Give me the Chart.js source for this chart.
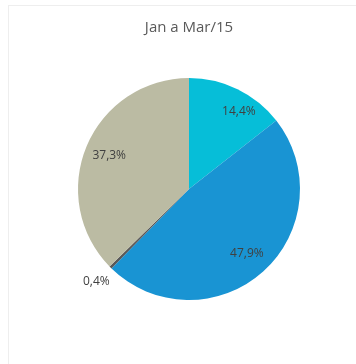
<!DOCTYPE html>
<html>
<head>
<meta charset="utf-8">
<script src="https://cdn.jsdelivr.net/npm/chart.js@4"></script>
<style>
  body { margin: 0; background: #ffffff; }
  #frame { position: absolute; left: 8px; top: 5px; width: 360px; height: 370px; border: 1px solid #eeeeee; }
  #box { position: absolute; left: 0; top: 0; width: 356px; height: 364px; }
</style>
</head>
<body>
<div id="frame"></div>
<div id="box"><canvas id="pieChart"></canvas></div>
<script>
// Dados do gráfico (percentuais por fatia)
const categorias = ['A', 'B', 'C', 'D'];
const valores = [14.4, 47.9, 0.4, 37.3];
const cores = ['#06bed8', '#1994d3', '#595959', '#bbbba3'];
const titulo = 'Jan a Mar/15';

// Plugin simples para escrever os rótulos de porcentagem
const rotulosPlugin = {
  id: 'rotulos',
  afterDatasetsDraw(chart) {
    const ctx = chart.ctx;
    const meta = chart.getDatasetMeta(0);
    ctx.save();
    ctx.font = '12px "Open Sans", sans-serif';
    ctx.fillStyle = '#404040';
    ctx.textAlign = 'center';
    ctx.textBaseline = 'middle';
    meta.data.forEach(function(arc, i) {
      let meio = (arc.startAngle + arc.endAngle) / 2;
      const fora = valores[i] < 2; // fatias muito pequenas ficam fora
      let k = fora ? 1.18 : 0.78;
      // fatias estreitas: empurra o rótulo um pouco para o lado mais largo
      if (!fora && valores[i] < 20) { meio += 0.12; k = 0.83; }
      const r = arc.outerRadius * k;
      const x = arc.x + Math.cos(meio) * r;
      const y = arc.y + Math.sin(meio) * r;
      ctx.fillText(valores[i].toFixed(1).replace('.', ',') + '%', x, y);
    });
    ctx.restore();
  }
};

new Chart(document.getElementById('pieChart'), {
  type: 'pie',
  data: {
    labels: categorias,
    datasets: [{
      data: valores,
      backgroundColor: cores,
      borderWidth: 0
    }]
  },
  options: {
    responsive: true,
    maintainAspectRatio: false,
    animation: false,
    layout: {
      padding: { left: 78, right: 56, top: 0, bottom: 64 }
    },
    plugins: {
      legend: { display: false },
      tooltip: { enabled: false },
      title: {
        display: true,
        text: titulo,
        color: '#595959',
        font: { family: '"Open Sans", sans-serif', size: 15, weight: 'normal' },
        padding: { top: 19, bottom: 41 }
      }
    }
  },
  plugins: [rotulosPlugin]
});
</script>
</body>
</html>
